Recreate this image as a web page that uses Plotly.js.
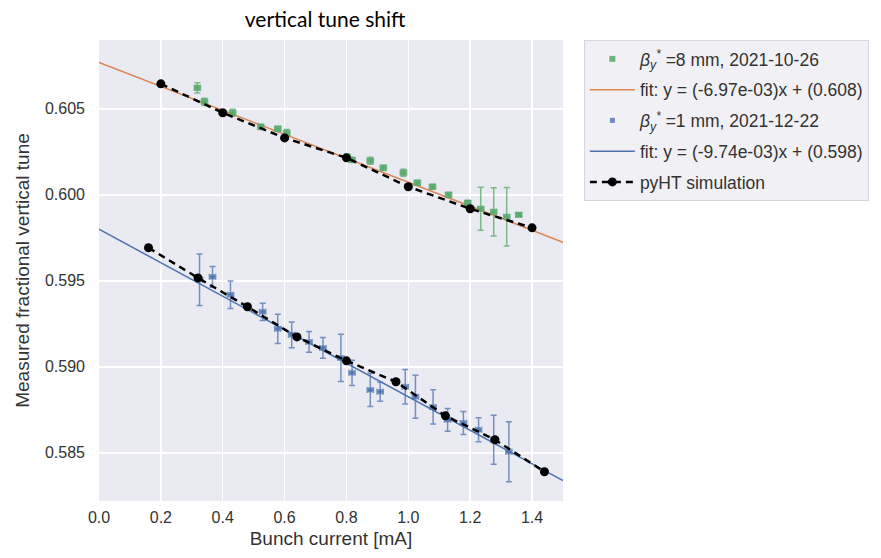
<!DOCTYPE html>
<html>
<head>
<meta charset="utf-8">
<script src="https://cdn.plot.ly/plotly-3.0.1.min.js"></script>
<style>
  html, body { margin: 0; padding: 0; background: #ffffff; }
  #chart { width: 881px; height: 558px; }
</style>
</head>
<body>
<div id="chart"></div>
<script>
// Measured vertical tune vs bunch current, beta_y* = 8 mm (2021-10-26)
const current8mm = [0.318, 0.341, 0.432, 0.523, 0.578, 0.607, 0.802, 0.818, 0.877, 0.919,
                    0.984, 1.029, 1.078, 1.130, 1.192, 1.234, 1.276, 1.318, 1.357];
const tune8mm    = [0.60622, 0.60541, 0.60477, 0.60395, 0.60384, 0.60360, 0.60221, 0.60203, 0.60198, 0.60157,
                    0.60128, 0.60070, 0.60047, 0.60000, 0.59953, 0.59919, 0.59901, 0.59872, 0.59884];
const tuneErr8mm = [0.00030, 0.00020, 0.00020, 0.00015, 0.00015, 0.00020, 0.00015, 0.00015, 0.00020, 0.00015,
                    0.00020, 0.00015, 0.00015, 0.00015, 0.00015, 0.00125, 0.00140, 0.00170, 0.00010];

// Measured vertical tune vs bunch current, beta_y* = 1 mm (2021-12-22)
const current1mm = [0.325, 0.367, 0.425, 0.529, 0.578, 0.623, 0.679, 0.724, 0.782, 0.818,
                    0.877, 0.909, 0.990, 1.023, 1.080, 1.127, 1.178, 1.227, 1.276, 1.325];
const tune1mm    = [0.59506, 0.59523, 0.59419, 0.59320, 0.59221, 0.59186, 0.59145, 0.59110, 0.59052, 0.58965,
                    0.58866, 0.58855, 0.58884, 0.58826, 0.58767, 0.58692, 0.58674, 0.58634, 0.58576, 0.58506];
const tuneErr1mm = [0.00150, 0.00060, 0.00080, 0.00050, 0.00085, 0.00075, 0.00060, 0.00060, 0.00137, 0.00073,
                    0.00096, 0.00055, 0.00100, 0.00125, 0.00100, 0.00066, 0.00067, 0.00070, 0.00142, 0.00174];

// Horizontal (current) uncertainty of each measurement
const currentErr = 0.01;

// Linear fit parameters: tune = slope * current + intercept
const fitSlope8mm = -6.97e-3, fitIntercept8mm = 0.6077;
const fitSlope1mm = -9.74e-3, fitIntercept1mm = 0.598;
const fitRange = [0.0, 1.5];

// pyHT simulation results
const simCurrentTop = [0.2, 0.4, 0.6, 0.8, 1.0, 1.2, 1.4];
const simTuneTop    = [0.60645, 0.60477, 0.60331, 0.60215, 0.60047, 0.59919, 0.59808];
const simCurrentBot = [0.16, 0.32, 0.48, 0.64, 0.80, 0.96, 1.12, 1.28, 1.44];
const simTuneBot    = [0.59692, 0.59517, 0.59349, 0.59174, 0.59035, 0.58913, 0.58715, 0.58576, 0.58390];

// Axis ticks
const xTicks = [0.0, 0.2, 0.4, 0.6, 0.8, 1.0, 1.2, 1.4];
const yTicks = [0.585, 0.590, 0.595, 0.600, 0.605];

const fmtExp = v => {
  const [m, e] = v.toExponential(2).split('e');
  const n = parseInt(e, 10);
  return m + 'e' + (n < 0 ? '-' : '+') + String(Math.abs(n)).padStart(2, '0');
};
const fitLabel = (s, b) => 'fit: y = (' + fmtExp(s) + ')x + (' + b.toFixed(3) + ')';
const fitLine = (s, b) => fitRange.map(x => s * x + b);

const GREEN = '#55a868', ORANGE = '#dd8452', BLUE = '#4c72b0';
const FONT = 'Liberation Sans, Arial, sans-serif';

const traces = [
  {
    x: fitRange, y: fitLine(fitSlope8mm, fitIntercept8mm),
    type: 'scatter', mode: 'lines', name: fitLabel(fitSlope8mm, fitIntercept8mm),
    line: { color: ORANGE, width: 1.5 }, legendrank: 2, legendgroup: 'g2'
  },
  {
    x: fitRange, y: fitLine(fitSlope1mm, fitIntercept1mm),
    type: 'scatter', mode: 'lines', name: fitLabel(fitSlope1mm, fitIntercept1mm),
    line: { color: BLUE, width: 1.5 }, legendrank: 4, legendgroup: 'g4'
  },
  {
    x: current8mm, y: tune8mm, type: 'scatter', mode: 'markers',
    name: '<i>β<sub>y</sub><sup>*</sup></i> =8 mm, 2021-10-26',
    marker: { symbol: 'square', size: 6, color: GREEN, opacity: 0.85 },
    error_y: { type: 'data', array: tuneErr8mm, color: 'rgba(85,168,104,0.75)', thickness: 1.5, width: 3 },
    error_x: { type: 'constant', value: currentErr, color: 'rgba(85,168,104,0.75)', thickness: 1.5, width: 3 },
    legendrank: 1, legendgroup: 'g1'
  },
  {
    x: current1mm, y: tune1mm, type: 'scatter', mode: 'markers',
    name: '<i>β<sub>y</sub><sup>*</sup></i> =1 mm, 2021-12-22',
    marker: { symbol: 'square', size: 5, color: BLUE, opacity: 0.8 },
    error_y: { type: 'data', array: tuneErr1mm, color: 'rgba(76,114,176,0.75)', thickness: 1.5, width: 3 },
    error_x: { type: 'constant', value: currentErr, color: 'rgba(76,114,176,0.75)', thickness: 1.5, width: 3 },
    legendrank: 3, legendgroup: 'g3'
  },
  {
    x: simCurrentTop.concat([null], simCurrentBot),
    y: simTuneTop.concat([null], simTuneBot),
    type: 'scatter', mode: 'lines+markers', name: 'pyHT simulation',
    connectgaps: false,
    line: { color: '#000000', width: 2.5, dash: '7px,5px' },
    marker: { color: '#000000', size: 9 },
    legendrank: 5, legendgroup: 'g5'
  }
];

const layout = {
  width: 881, height: 558,
  margin: { l: 99, r: 318, t: 40, b: 57, pad: 0 },
  paper_bgcolor: '#ffffff',
  plot_bgcolor: '#eaeaf2',
  font: { family: FONT, color: '#333333', size: 16 },
  title: {
    text: 'vertical tune shift',
    font: { family: 'Lato, Open Sans, sans-serif', size: 21, color: '#000000' },
    xref: 'container', x: 0.369, xanchor: 'center',
    yref: 'container', y: 0.964, yanchor: 'middle'
  },
  xaxis: {
    range: [0, 1.5],
    tickmode: 'array', tickvals: xTicks, ticktext: xTicks.map(v => v.toFixed(1)),
    showgrid: true, gridcolor: '#ffffff', gridwidth: 1.5,
    zeroline: false, showline: false, ticks: '',
    ticklabelstandoff: 5,
    tickfont: { size: 16, color: '#333333' },
    title: { text: 'Bunch current [mA]', font: { size: 19, color: '#333333' }, standoff: 6 }
  },
  yaxis: {
    range: [0.5822, 0.6090],
    tickmode: 'array', tickvals: yTicks, ticktext: yTicks.map(v => v.toFixed(3)),
    showgrid: true, gridcolor: '#ffffff', gridwidth: 1.5,
    zeroline: false, showline: false, ticks: '',
    ticklabelstandoff: 13,
    tickfont: { size: 16, color: '#333333' },
    title: { text: 'Measured fractional vertical tune', font: { size: 19, color: '#333333' }, standoff: 10 }
  },
  legend: {
    x: 1.045, xanchor: 'left', y: 1.0, yanchor: 'top',
    bgcolor: '#f1f1f5', bordercolor: '#d6d6de', borderwidth: 1,
    font: { family: FONT, size: 17.5, color: '#333333' },
    traceorder: 'grouped', tracegroupgap: 5,
    itemwidth: 45
  },
  showlegend: true
};

Plotly.newPlot('chart', traces, layout, { displayModeBar: false, staticPlot: true });
</script>
</body>
</html>
